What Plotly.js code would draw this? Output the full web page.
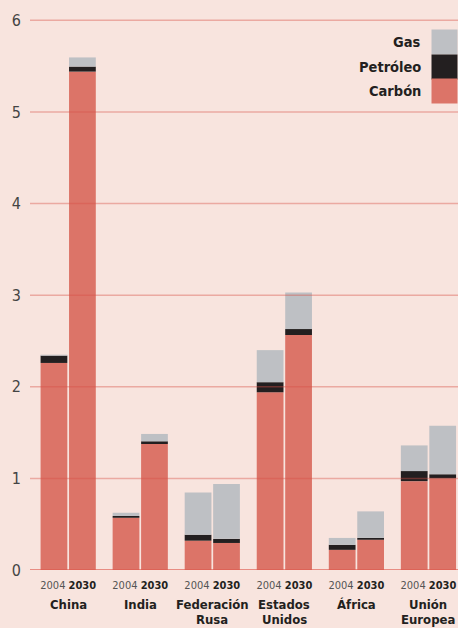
<!DOCTYPE html>
<html>
<head>
<meta charset="utf-8">
<script src="https://cdn.plot.ly/plotly-3.0.1.min.js"></script>
<style>
  html, body { margin: 0; padding: 0; background: #f8e4de; }
  #chart { width: 458px; height: 628px; }
</style>
</head>
<body>
<div id="chart"></div>
<script>
// Energy demand by fuel, 2004 vs 2030 (stacked pairs per region)
const regionLine1 = ["China", "India", "Federación", "Estados", "África", "Unión"];
const regionLine2 = ["", "", "Rusa", "Unidos", "", "Europea"];

const carbon2004 = [2.26, 0.57, 0.32, 1.94, 0.22, 0.97];
const oil2004    = [0.08, 0.02, 0.065, 0.11, 0.055, 0.11];
const gas2004    = [0.01, 0.035, 0.46, 0.35, 0.075, 0.28];

const carbon2030 = [5.44, 1.375, 0.295, 2.565, 0.33, 1.00];
const oil2030    = [0.055, 0.03, 0.045, 0.065, 0.02, 0.045];
const gas2030    = [0.10, 0.08, 0.60, 0.40, 0.29, 0.53];

const yTicks = [0, 1, 2, 3, 4, 5, 6];
const legendItems = ["Gas", "Petróleo", "Carbón"];

const COL = { carbon: "#dc7468", oil: "#231f20", gas: "#bec0c4" };
const BG = "#f8e4de";
const NARROW = "'DejaVu Sans Condensed', 'Liberation Sans Narrow', Arial, sans-serif";

const cats = regionLine1.map((_, i) => "r" + i);
const add = (a, b) => a.map((v, i) => v + b[i]);

function stackTraces(year, carbon, oil, gas) {
  const mk = (y, base, color) => ({
    type: "bar", x: cats, y, base, offsetgroup: year,
    marker: { color, line: { width: 0 } },
    hoverinfo: "skip", showlegend: false,
  });
  return [
    mk(carbon, carbon.map(() => 0), COL.carbon),
    mk(oil, carbon, COL.oil),
    mk(gas, add(carbon, oil), COL.gas),
  ];
}

const traces = [
  ...stackTraces("2004", carbon2004, oil2004, gas2004),
  ...stackTraces("2030", carbon2030, oil2030, gas2030),
];

// gridlines sit on top of the bars in the original
const shapes = yTicks.map((t) => ({
  type: "line", xref: "paper", x0: 0, x1: 1, yref: "y", y0: t, y1: t, layer: "above",
  line: t === 0 ? { color: "rgba(222,90,78,0.85)", width: 1.5 }
                : { color: "rgba(215,80,70,0.4)", width: 1.5 },
}));

const nameFont = { family: NARROW, size: 13, color: "#231f20" };
const annotations = [];
regionLine1.forEach((r, i) => {
  annotations.push({ x: cats[i], xref: "x", y: -0.0616, yref: "paper", yanchor: "middle",
    text: "<b>" + r + "</b>", showarrow: false, font: nameFont });
  if (regionLine2[i]) {
    annotations.push({ x: cats[i], xref: "x", y: -0.088, yref: "paper", yanchor: "middle",
      text: "<b>" + regionLine2[i] + "</b>", showarrow: false, font: nameFont });
  }
});

// legend: labels right-aligned next to stacked swatches
const legCol = [COL.gas, COL.oil, COL.carbon];
const slotTop = 5.90, slotH = 0.27;
legendItems.forEach((name, i) => {
  const yc = slotTop - slotH * (i + 0.5);
  annotations.push({
    x: 0.918, xref: "paper", xanchor: "right", y: yc, yref: "y", yanchor: "middle",
    text: "<b>" + name + "</b>", showarrow: false,
    font: { family: NARROW, size: 14.5, color: "#231f20" },
  });
  annotations.push({
    x: 1, xref: "paper", xanchor: "right", y: yc, yref: "y", yanchor: "middle",
    text: " ", showarrow: false, bgcolor: legCol[i], borderpad: 0,
    width: 25, height: 24,
  });
});

const layout = {
  width: 458, height: 628,
  paper_bgcolor: BG, plot_bgcolor: BG,
  margin: { l: 30, r: 0, t: 2, b: 58 },
  barmode: "group", bargap: 0.21, bargroupgap: 0.06,
  showlegend: false,
  xaxis: {
    type: "category", range: [-0.53, 5.41],
    tickvals: cats,
    ticktext: cats.map(() => "<span style='color:#555'>2004</span> <b>2030</b>"),
    tickfont: { family: NARROW, size: 11, color: "#231f20" },
    ticks: "", showgrid: false, zeroline: false, showline: false,
    ticklabelstandoff: 7,
  },
  yaxis: {
    range: [0, 6.2], tickvals: yTicks, ticktext: yTicks.map(String),
    tickfont: { family: NARROW, size: 16, color: "#444" },
    ticks: "", showgrid: false, zeroline: false, showline: false,
    ticklabelstandoff: 8,
  },
  shapes, annotations,
};

Plotly.newPlot("chart", traces, layout, { displayModeBar: false, staticPlot: true });
</script>
</body>
</html>
